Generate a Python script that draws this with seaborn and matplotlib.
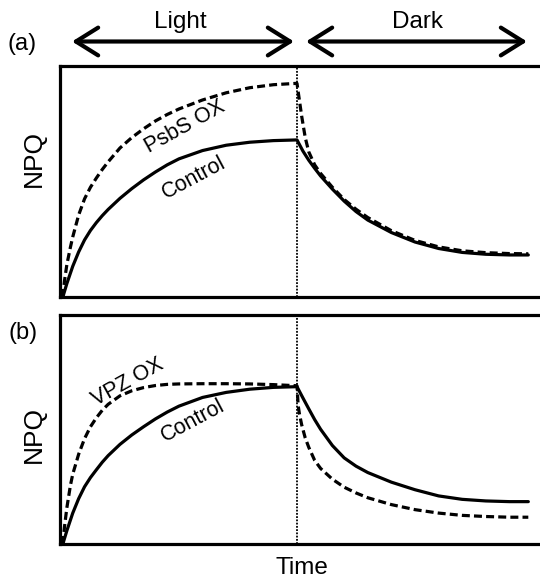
import matplotlib
matplotlib.use('Agg')
import matplotlib.pyplot as plt
import pandas as pd
import seaborn as sns

# time in arbitrary units: light 0-10, dark 10-19.8
t_ctrl = [0.08, 0.25, 0.5, 0.75, 1, 1.25, 1.5, 1.75, 2, 2.5, 3, 3.5, 4, 4.5, 5, 6, 7, 8, 9, 10,
          10.25, 10.5, 10.75, 11, 11.5, 12, 12.5, 13, 14, 15, 16, 17, 18, 19, 19.8]
npq_ctrl_a = [0, 0.058, 0.133, 0.195, 0.247, 0.288, 0.322, 0.352, 0.379, 0.427, 0.469, 0.507,
              0.541, 0.572, 0.598, 0.634, 0.657, 0.670, 0.677, 0.680,
              0.632, 0.592, 0.557, 0.524, 0.467, 0.415, 0.37, 0.333, 0.279, 0.238, 0.21,
              0.193, 0.185, 0.182, 0.182]
npq_ctrl_b = [0, 0.058, 0.135, 0.198, 0.25, 0.29, 0.324, 0.357, 0.386, 0.435, 0.476, 0.512,
              0.546, 0.576, 0.602, 0.64, 0.662, 0.676, 0.684, 0.687,
              0.638, 0.59, 0.543, 0.501, 0.43, 0.376, 0.34, 0.312, 0.27, 0.237, 0.21,
              0.195, 0.188, 0.185, 0.185]

t_ox = [0.08, 0.15, 0.25, 0.4, 0.5, 0.75, 1, 1.25, 1.5, 1.75, 2, 2.5, 3, 3.5, 4, 4.5, 5, 6, 7, 8, 9, 10,
        10.05, 10.1, 10.2, 10.35, 10.5, 10.75, 11, 11.5, 12, 12.5, 13, 14, 15, 16, 17, 18, 19, 19.8]
npq_psbs = [0, 0.07, 0.14, 0.215, 0.26, 0.355, 0.425, 0.475, 0.515, 0.552, 0.585, 0.645, 0.69,
            0.728, 0.762, 0.79, 0.814, 0.853, 0.884, 0.906, 0.919, 0.925,
            0.889, 0.853, 0.782, 0.69, 0.628, 0.572, 0.535, 0.475, 0.422, 0.38, 0.344, 0.287,
            0.245, 0.217, 0.2, 0.192, 0.188, 0.187]
npq_vpz = [0, 0.075, 0.158, 0.255, 0.305, 0.392, 0.46, 0.512, 0.551, 0.584, 0.61, 0.647, 0.669,
           0.683, 0.692, 0.697, 0.699, 0.7, 0.7, 0.699, 0.696, 0.691,
           0.605, 0.57, 0.52, 0.463, 0.422, 0.365, 0.33, 0.283, 0.248, 0.223, 0.202, 0.172,
           0.15, 0.135, 0.125, 0.12, 0.117, 0.117]

sns.set_style('white')
plt.rcParams['font.family'] = ['Liberation Sans', 'DejaVu Sans']
plt.rcParams['text.color'] = 'black'
plt.rcParams['axes.labelcolor'] = 'black'

W, H = 540, 578
fig = plt.figure(figsize=(W / 100, H / 100), dpi=100)
ax_a = fig.add_axes([60 / W, 1 - 297 / H, 482 / W, 231 / H])
ax_b = fig.add_axes([60 / W, 1 - 544 / H, 482 / W, 229 / H])


def panel(ax, npq_ctrl, npq_ox, ox_name, ox_pos, ctrl_pos, ylab_y):
    df_c = pd.DataFrame({'time': t_ctrl, 'NPQ': npq_ctrl})
    df_o = pd.DataFrame({'time': t_ox, 'NPQ': npq_ox})
    sns.lineplot(data=df_c, x='time', y='NPQ', ax=ax, color='black', lw=2.3,
                 estimator=None, sort=False, solid_joinstyle='round')
    sns.lineplot(data=df_o, x='time', y='NPQ', ax=ax, color='black', lw=2.3,
                 ls=(0, (2.5, 1.3)), estimator=None, sort=False)
    ax.axvline(10, color='black', lw=1.3, ls=(0, (1, 0.8)))
    ax.set_xlim(-0.04, 20.38)
    ax.set_ylim(0, 1)
    ax.set_xticks([])
    ax.set_yticks([])
    ax.set_xlabel('')
    ax.set_ylabel('NPQ', fontsize=19, va='center')
    ax.yaxis.set_label_coords(-0.054, ylab_y)
    for s in ['top', 'left', 'bottom']:
        ax.spines[s].set_linewidth(2.3)
        ax.spines[s].set_color('black')
    ax.spines['right'].set_visible(False)
    ax.text(ox_pos[0], ox_pos[1], ox_name, rotation=29, ha='center', va='center', fontsize=15.5)
    ax.text(ctrl_pos[0], ctrl_pos[1], 'Control', rotation=28, ha='center', va='center', fontsize=15.5)


panel(ax_a, npq_ctrl_a, npq_psbs, 'PsbS OX', (5.25, 0.736), (5.64, 0.515), 0.60)
panel(ax_b, npq_ctrl_b, npq_vpz, 'VPZ OX', (2.82, 0.705), (5.57, 0.537), 0.48)

ax_b.set_xlabel('Time', fontsize=17.5)
ax_b.xaxis.set_label_coords(0.502, -0.057)

fig.text(22 / W, 1 - 44 / H, '(a)', fontsize=17, ha='center', va='center')
fig.text(23 / W, 1 - 333 / H, '(b)', fontsize=17, ha='center', va='center')
fig.text(180 / W, 1 - 22 / H, 'Light', fontsize=17.5, ha='center', va='center')
fig.text(418 / W, 1 - 22 / H, 'Dark', fontsize=17.5, ha='center', va='center')

arrow = dict(arrowstyle='<->,head_length=0.8,head_width=0.5', lw=3, color='black',
             shrinkA=0, shrinkB=0, mutation_scale=20)
y_arr = 1 - 41.5 / H
ax_a.annotate('', xy=(294 / W, y_arr), xytext=(72 / W, y_arr), xycoords='figure fraction',
              textcoords='figure fraction', arrowprops=arrow)
ax_a.annotate('', xy=(527 / W, y_arr), xytext=(306 / W, y_arr), xycoords='figure fraction',
              textcoords='figure fraction', arrowprops=arrow)

fig.savefig('out.png', dpi=100)
